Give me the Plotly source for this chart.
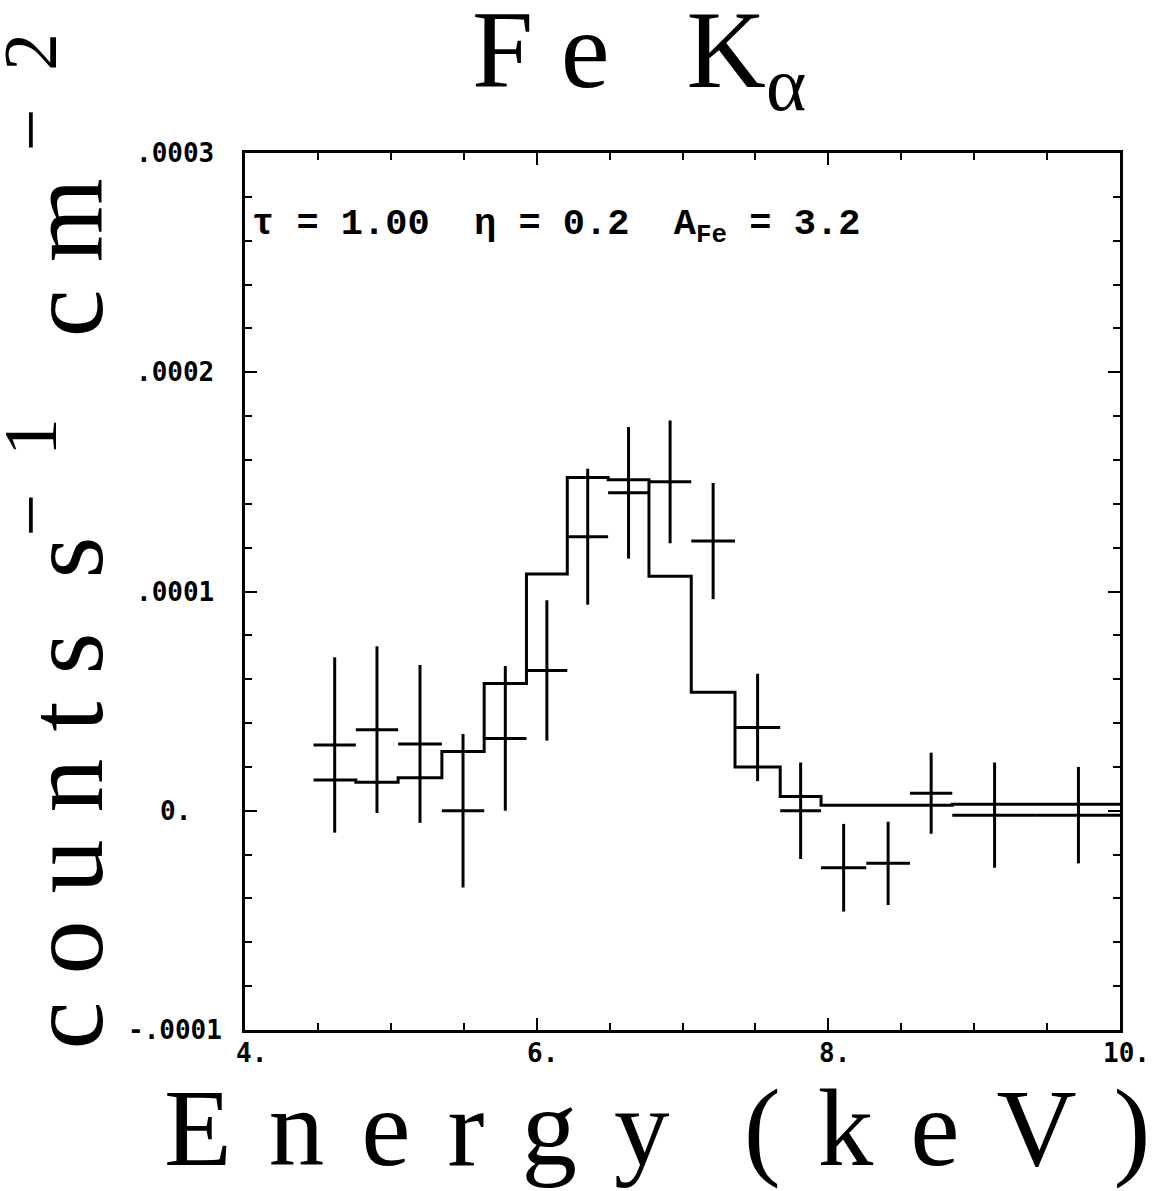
import plotly.graph_objects as go

# Energy channel edges (keV) of the spectrum
bin_edges = [4.47, 4.76, 5.05, 5.35, 5.64, 5.93, 6.21, 6.49, 6.77, 7.06,
             7.36, 7.67, 7.95, 8.26, 8.56, 8.85, 9.43, 10.0]

# Observed line flux per channel (counts s^-1 cm^-2) and 1-sigma errors
observed = [3.0e-5, 3.7e-5, 3.05e-5, 0.0e-5, 3.3e-5, 6.4e-5, 12.5e-5, 14.5e-5,
            15.0e-5, 12.3e-5, 3.8e-5, 0.0e-5, -2.6e-5, -2.4e-5, 0.8e-5,
            -0.2e-5, -0.2e-5]
errors = [4.0e-5, 3.8e-5, 3.6e-5, 3.5e-5, 3.3e-5, 3.2e-5, 3.1e-5, 3.0e-5,
          2.8e-5, 2.65e-5, 2.45e-5, 2.2e-5, 2.0e-5, 1.9e-5, 1.85e-5,
          2.4e-5, 2.2e-5]

# Model Fe K-alpha line folded through the channels
model = [1.4e-5, 1.3e-5, 1.5e-5, 2.7e-5, 5.8e-5, 10.8e-5, 15.2e-5, 15.1e-5,
         10.7e-5, 5.4e-5, 2.0e-5, 0.65e-5, 0.25e-5, 0.25e-5, 0.25e-5,
         0.3e-5, 0.3e-5]

x_tick_vals = [4, 6, 8, 10]
x_tick_text = ["4.", "6.", "8.", "10."]
y_tick_vals = [-0.0001, 0.0, 0.0001, 0.0002, 0.0003]
y_tick_text = ["-.0001", "0.", ".0001", ".0002", ".0003"]

centers = [(a + b) / 2 for a, b in zip(bin_edges[:-1], bin_edges[1:])]
half_widths = [(b - a) / 2 for a, b in zip(bin_edges[:-1], bin_edges[1:])]

fig = go.Figure()

fig.add_trace(go.Scatter(
    x=bin_edges, y=model + [model[-1]],
    mode="lines", line=dict(shape="hv", color="black", width=3),
    showlegend=False, hoverinfo="skip",
))

fig.add_trace(go.Scatter(
    x=centers, y=observed, mode="markers",
    marker=dict(size=1, color="black", opacity=0),
    error_x=dict(type="data", array=half_widths, width=0, thickness=3, color="black"),
    error_y=dict(type="data", array=errors, width=0, thickness=3, color="black"),
    showlegend=False,
))

tick_font = dict(family="DejaVu Sans Mono", size=26, color="black", weight="bold")
serif = "Liberation Serif"
sp = "\u2004"  # three-per-em space for the widely tracked axis lettering

annotations = []
for v, t in zip(y_tick_vals, y_tick_text):
    annotations.append(dict(x=-0.08, xref="paper", y=v, yref="y", text=t,
                            showarrow=False, xanchor="center", yanchor="middle",
                            font=tick_font))
for v, t in zip(x_tick_vals, x_tick_text):
    annotations.append(dict(x=v, xref="x", y=-0.026, yref="paper", text=t,
                            showarrow=False, xanchor="center", yanchor="middle",
                            xshift=6, font=tick_font))

annotations.append(dict(
    x=0.006, xref="paper", y=0.916, yref="paper", xanchor="left", yanchor="middle",
    text="τ = 1.00  η = 0.2  A<sub>Fe</sub> = 3.2", showarrow=False,
    font=dict(family="Liberation Mono", size=37, color="black", weight="bold"),
))
annotations.append(dict(
    x=0.45, xref="paper", y=1.108, yref="paper", xanchor="center", yanchor="middle",
    text="F e\u2002\u2009K<sub>α</sub>", showarrow=False,
    font=dict(family=serif, size=110, color="black"),
))
annotations.append(dict(
    x=0.471, xref="paper", y=-0.111, yref="paper", xanchor="center", yanchor="middle",
    text=sp.join("Energy") + sp + sp + sp.join("(keV)"), showarrow=False,
    font=dict(family=serif, size=111, color="black"),
))
annotations.append(dict(
    x=-0.215, xref="paper", y=0.557, yref="paper", xanchor="center", yanchor="middle",
    text=" ".join("counts") + "  s<sup>−\u20021</sup>   " + " ".join("cm")
         + " <sup>−\u20022</sup>",
    textangle=-90, showarrow=False,
    font=dict(family=serif, size=108, color="black"),
))

axis_common = dict(
    showline=True, linecolor="black", linewidth=3, mirror="ticks",
    ticks="inside", ticklen=12, tickwidth=2, tickcolor="black",
    showgrid=False, zeroline=False, showticklabels=False,
)

fig.update_xaxes(range=[4, 10], tickvals=x_tick_vals,
                 minor=dict(dtick=0.5, tick0=4, ticks="inside", ticklen=7,
                            tickwidth=2, tickcolor="black", showgrid=False),
                 **axis_common)
fig.update_yaxes(range=[-0.0001, 0.0003], tickvals=y_tick_vals,
                 minor=dict(dtick=0.00002, tick0=0, ticks="inside", ticklen=7,
                            tickwidth=2, tickcolor="black", showgrid=False),
                 **axis_common)

fig.update_layout(
    width=1159, height=1191, autosize=False,
    margin=dict(l=245, r=39, t=153, b=161),
    paper_bgcolor="white", plot_bgcolor="white",
    annotations=annotations,
)

fig.write_html("out.html")
